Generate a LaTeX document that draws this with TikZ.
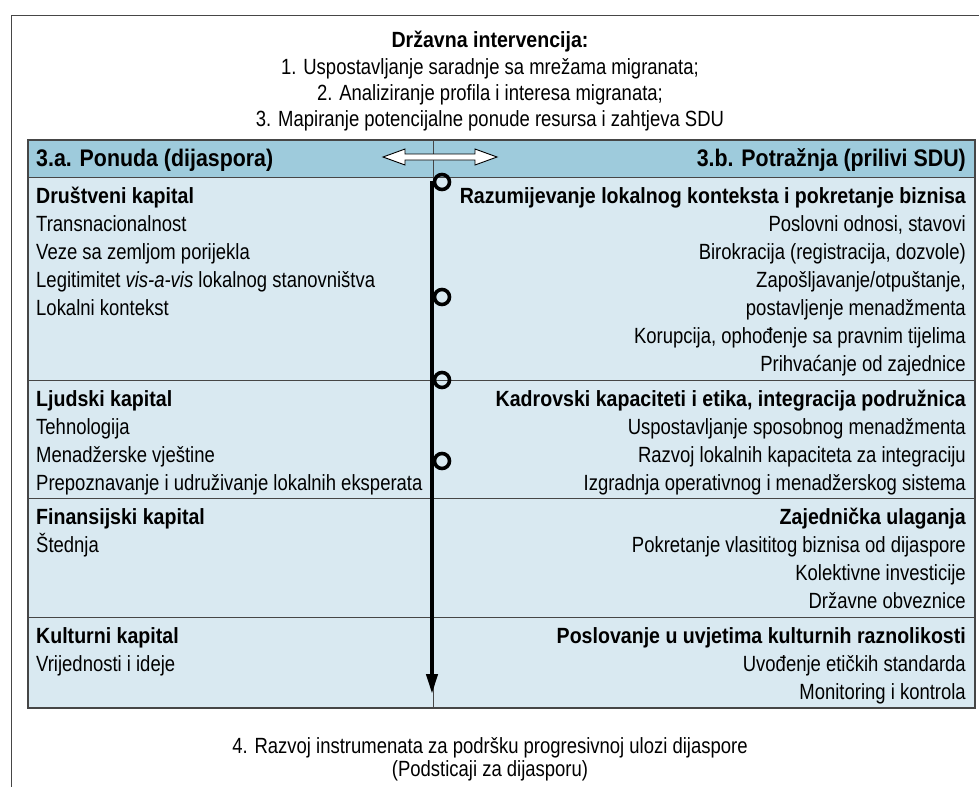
\documentclass[tikz,border=0pt]{standalone}
\usepackage{fontspec}
\setmainfont{Liberation Sans}[FakeStretch=0.84]
\newfontfamily\hdfont{Liberation Sans}[FakeStretch=0.89]
\usetikzlibrary{arrows.meta}
\definecolor{hdrblue}{RGB}{158,203,220}
\definecolor{bodyblue}{RGB}{217,233,241}
\definecolor{gridgray}{RGB}{70,70,70}
\tikzset{
  lt/.style={anchor=base west, inner sep=0pt, font=\fontsize{22}{26}\selectfont},
  rt/.style={anchor=base east, inner sep=0pt, font=\fontsize{22}{26}\selectfont},
  ct/.style={anchor=base, inner sep=0pt, font=\fontsize{22}{26}\selectfont},
  lb/.style={anchor=base west, inner sep=0pt, font=\hdfont\bfseries\fontsize{22}{26}\selectfont},
  rb/.style={anchor=base east, inner sep=0pt, font=\hdfont\bfseries\fontsize{22}{26}\selectfont},
  cb/.style={anchor=base, inner sep=0pt, font=\hdfont\bfseries\fontsize{22}{26}\selectfont},
  hl/.style={anchor=base west, inner sep=0pt, font=\hdfont\bfseries\fontsize{24}{26}\selectfont},
  hr/.style={anchor=base east, inner sep=0pt, font=\hdfont\bfseries\fontsize{24}{26}\selectfont},
  ring/.style={circle, draw=black, line width=3.6pt, minimum size=15pt, inner sep=0pt},
  rule/.style={draw=gridgray, line width=1pt},
  frameline/.style={draw=gridgray, line width=1pt}
}
\begin{document}
\begin{tikzpicture}[x=1pt,y=-1pt]
\useasboundingbox (0,0) rectangle (979,787);
% outer frame
\draw[frameline] (979,15) -- (11,15) -- (11,787);
% table fills
\fill[hdrblue] (28,140) rectangle (975,177);
\fill[bodyblue] (28,177) rectangle (975,708);
% table rules
\draw[rule] (28,177) -- (975,177);
\draw[rule] (28,380) -- (975,380);
\draw[rule] (28,498) -- (975,498);
\draw[rule] (28,617) -- (975,617);
\draw[rule] (433,140) -- (433,708);
\draw[draw=gridgray, line width=1.5pt] (28,140) rectangle (975,708);

% title
\node[cb] (title) at (490,47) {Državna intervencija:};
\node[ct] (t1) at (490,74) {1. Uspostavljanje saradnje sa mrežama migranata;};
\node[ct] (t2) at (490,100) {2. Analiziranje profila i interesa migranata;};
\node[ct] (t3) at (490,126) {3. Mapiranje potencijalne ponude resursa i zahtjeva SDU};

% header
\node[hl] (ha) at (36,166) {3.a. Ponuda (dijaspora)};
\node[hr] (hb) at (966,166) {3.b. Potražnja (prilivi SDU)};
\draw[fill=white, draw=black, line width=0.9pt]
  (383,157) -- (405,149) -- (405,154) -- (475,154) -- (475,149) -- (497,157)
  -- (475,165) -- (475,160) -- (405,160) -- (405,165) -- cycle;

% row 1
\node[lb] (l1h) at (36,203) {Društveni kapital};
\node[lt] (l1a) at (36,231) {Transnacionalnost};
\node[lt] (l1b) at (36,259) {Veze sa zemljom porijekla};
\node[lt] (l1c) at (36,287) {Legitimitet \textit{vis-a-vis} lokalnog stanovništva};
\node[lt] (l1d) at (36,315) {Lokalni kontekst};
\node[rb] (r1h) at (966,203) {Razumijevanje lokalnog konteksta i pokretanje biznisa};
\node[rt] (r1a) at (966,231) {Poslovni odnosi, stavovi};
\node[rt] (r1b) at (966,259) {Birokracija (registracija, dozvole)};
\node[rt] (r1c) at (966,287) {Zapošljavanje/otpuštanje,};
\node[rt] (r1d) at (966,315) {postavljenje menadžmenta};
\node[rt] (r1e) at (966,343) {Korupcija, ophođenje sa pravnim tijelima};
\node[rt] (r1f) at (966,371) {Prihvaćanje od zajednice};

% row 2
\node[lb] (l2h) at (36,406) {Ljudski kapital};
\node[lt] (l2a) at (36,434) {Tehnologija};
\node[lt] (l2b) at (36,462) {Menadžerske vještine};
\node[lt] (l2c) at (36,490) {Prepoznavanje i udruživanje lokalnih eksperata};
\node[rb] (r2h) at (966,406) {Kadrovski kapaciteti i etika, integracija podružnica};
\node[rt] (r2a) at (966,434) {Uspostavljanje sposobnog menadžmenta};
\node[rt] (r2b) at (966,462) {Razvoj lokalnih kapaciteta za integraciju};
\node[rt] (r2c) at (966,490) {Izgradnja operativnog i menadžerskog sistema};

% row 3
\node[lb] (l3h) at (36,524) {Finansijski kapital};
\node[lt] (l3a) at (36,552) {Štednja};
\node[rb] (r3h) at (966,524) {Zajednička ulaganja};
\node[rt] (r3a) at (966,552) {Pokretanje vlasititog biznisa od dijaspore};
\node[rt] (r3b) at (966,580) {Kolektivne investicije};
\node[rt] (r3c) at (966,608) {Državne obveznice};

% row 4
\node[lb] (l4h) at (36,643) {Kulturni kapital};
\node[lt] (l4a) at (36,671) {Vrijednosti i ideje};
\node[rb] (r4h) at (966,643) {Poslovanje u uvjetima kulturnih raznolikosti};
\node[rt] (r4a) at (966,671) {Uvođenje etičkih standarda};
\node[rt] (r4b) at (966,699) {Monitoring i kontrola};

% bottom text
\node[ct] (b1) at (490,753) {4. Razvoj instrumenata za podršku progresivnoj ulozi dijaspore};
\node[ct] (b2) at (490,776) {(Podsticaji za dijasporu)};

% timeline arrow with rings
\coordinate (top) at (432,181);
\coordinate (bot) at (432,694);
\draw[line width=4pt, -{Triangle[length=20pt,width=11pt]}] (top) -- (bot);
\node[ring] (c1) at (442,182) {};
\node[ring] (c2) at (442,297) {};
\node[ring] (c3) at (442,380) {};
\node[ring] (c4) at (442,461) {};
\end{tikzpicture}
\end{document}
